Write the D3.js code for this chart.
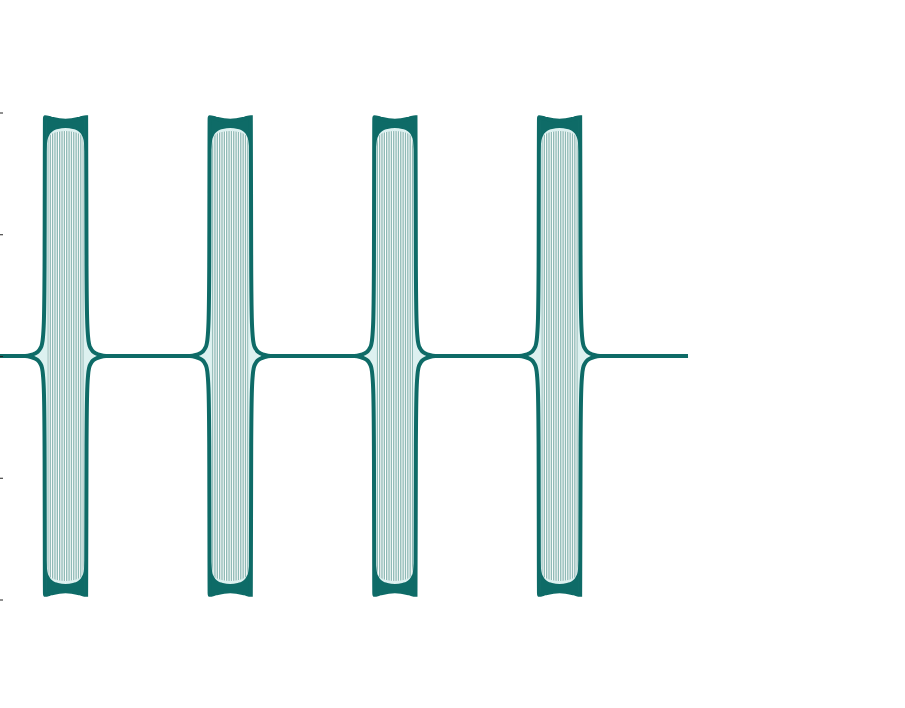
<!DOCTYPE html>
<html><head><meta charset="utf-8">
<script src="https://cdn.jsdelivr.net/npm/d3@7"></script>
<style>html,body{margin:0;padding:0;background:#fff;} svg{display:block}</style>
</head><body>
<svg id="chart" width="905" height="708"></svg>
<script>
// ---- data ----
const burstStarts = [0.273, 1.273, 2.273, 3.273];   // burst onset times
const burstWidth = 0.25;                            // burst duration
const signalEnd = 4.178;                            // last sample time
// envelope amplitude just outside each burst (time offset from the burst edge)
const flareDt  = [0.121, 0.085, 0.061, 0.0425, 0.030, 0.018, 0.012, 0.006, 0.0024];
const flareAmp = [0, 0.004, 0.010, 0.018, 0.029, 0.049, 0.078, 0.156, 0.37];
// outer envelope across a burst (fraction of burst duration)
const topU   = [0, 0.15, 0.35, 0.5, 0.65, 0.85, 1];
const topAmp = [0.981, 0.975, 0.968, 0.966, 0.968, 0.975, 0.981];
// inner edge of the dense peak band
const bandU     = [0.03, 0.06, 0.1, 0.18, 0.32, 0.5, 0.68, 0.82, 0.9, 0.94, 0.97];
const bandInner = [0.84, 0.885, 0.905, 0.922, 0.932, 0.936, 0.932, 0.922, 0.905, 0.885, 0.84];
// reach of the individual oscillation strokes
const stripeU   = [0.06, 0.075, 0.1, 0.16, 0.3, 0.5, 0.7, 0.84, 0.9, 0.925, 0.94];
const stripeTop = [0.86, 0.885, 0.9, 0.912, 0.92, 0.924, 0.92, 0.912, 0.9, 0.885, 0.86];
const stripesPerBurst = 16;
const yTicks = [-1, -0.5, 0, 0.5, 1];

// ---- scales ----
const x = d3.scaleLinear().domain([0, 4.19]).range([0, 690]);
const y = d3.scaleLinear().domain([-1, 1]).range([599.5, 112.5]);
const svg = d3.select("#chart");
const dark = "#0e6b67", light = "#ddf1f0", stripeCol = "#8fbab6";

// upper envelope points
const env = [[0, 0]];
burstStarts.forEach(s => {
  flareDt.forEach((d, i) => env.push([s - d, flareAmp[i]]));
  topU.forEach((u, i) => env.push([s + u * burstWidth, topAmp[i]]));
  for (let i = flareDt.length - 1; i >= 0; i--) env.push([s + burstWidth + flareDt[i], flareAmp[i]]);
});
env.push([signalEnd, 0]);

// light interior
svg.append("path")
  .attr("d", d3.area().curve(d3.curveMonotoneX)
    .x(d => x(d[0])).y0(d => y(-d[1])).y1(d => y(d[1]))(env))
  .attr("fill", light);

// stripe regions (white background + oscillation strokes)
const defs = svg.append("defs");
const topScale = d3.scaleLinear().domain(topU).range(topAmp);
burstStarts.forEach((s, b) => {
  const pts = stripeU.map((u, i) => [s + u * burstWidth, stripeTop[i]]);
  const regionArea = d3.area().curve(d3.curveMonotoneX)
    .x(d => x(d[0])).y0(d => y(-d[1])).y1(d => y(d[1]));
  defs.append("clipPath").attr("id", "clip" + b)
    .append("path").attr("d", regionArea(pts));
  const g = svg.append("g").attr("clip-path", `url(#clip${b})`);
  g.append("path").attr("d", regionArea(pts)).attr("fill", "#fff");
  const u0 = stripeU[0] + 0.012, u1 = stripeU[stripeU.length - 1] - 0.012;
  const xs = d3.range(stripesPerBurst).map(i => s + burstWidth * (u0 + (u1 - u0) * i / (stripesPerBurst - 1)));
  g.selectAll("line").data(xs).join("line")
    .attr("x1", d => x(d)).attr("x2", d => x(d))
    .attr("y1", y(0.95)).attr("y2", y(-0.95))
    .attr("stroke", stripeCol).attr("stroke-width", 1.35);

  // dense peak bands (top and bottom)
  const band = bandU.map((u, i) => [s + u * burstWidth, bandInner[i], topScale(u)]);
  svg.append("path")
    .attr("d", d3.area().curve(d3.curveMonotoneX)
      .x(d => x(d[0])).y0(d => y(d[1])).y1(d => y(d[2]))(band))
    .attr("fill", dark);
  svg.append("path")
    .attr("d", d3.area().curve(d3.curveMonotoneX)
      .x(d => x(d[0])).y0(d => y(-d[1])).y1(d => y(-d[2]))(band))
    .attr("fill", dark);
});

// envelope strokes
const upper = d3.line().curve(d3.curveMonotoneX).x(d => x(d[0])).y(d => y(d[1]));
const lower = d3.line().curve(d3.curveMonotoneX).x(d => x(d[0])).y(d => y(-d[1]));
svg.append("path").attr("d", upper(env)).attr("fill", "none")
  .attr("stroke", dark).attr("stroke-width", 4);
svg.append("path").attr("d", lower(env)).attr("fill", "none")
  .attr("stroke", dark).attr("stroke-width", 4);

// y axis ticks (labels fall outside the view)
const ax = svg.append("g").attr("transform", "translate(3,0)")
  .call(d3.axisLeft(y).tickValues(yTicks).tickSize(6).tickFormat(""));
ax.select(".domain").remove();
ax.selectAll(".tick line").attr("stroke", "#222");
</script>
</body></html>
